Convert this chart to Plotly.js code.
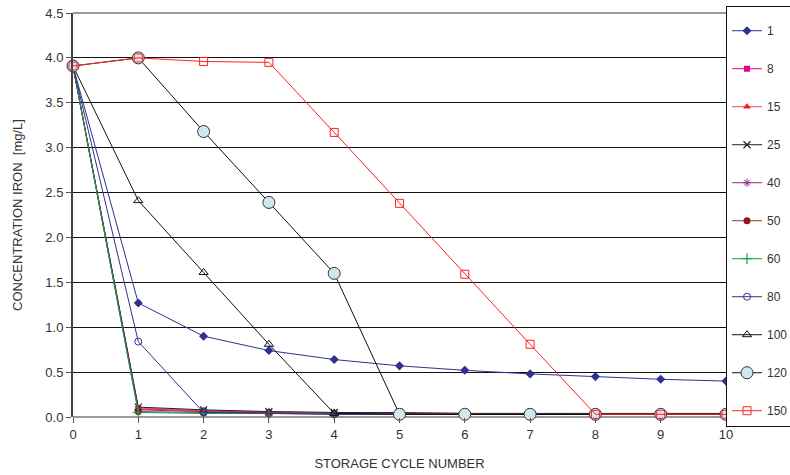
<!DOCTYPE html>
<html><head><meta charset="utf-8">
<script src="https://cdn.plot.ly/plotly-3.0.1.min.js"></script>
<style>body{margin:0;padding:0;background:#fff}#chart{width:790px;height:475px}</style>
</head><body><div id="chart"></div>
<script>
const cycles = [0,1,2,3,4,5,6,7,8,9,10];
const seriesNames = ["1","8","15","25","40","50","60","80","100","120","150"];
const s1   = [3.91,1.27,0.90,0.74,0.64,0.57,0.52,0.48,0.45,0.42,0.40];
const s8   = [3.91,0.09,0.07,0.05,0.04,0.04,0.04,0.03,0.03,0.03,0.03];
const s15  = [3.91,0.10,0.07,0.06,0.05,0.04,0.04,0.04,0.03,0.03,0.03];
const s25  = [3.91,0.11,0.08,0.06,0.05,0.05,0.04,0.04,0.04,0.04,0.04];
const s40  = [3.91,0.08,0.06,0.05,0.04,0.04,0.03,0.03,0.03,0.03,0.03];
const s50  = [3.91,0.06,0.05,0.05,0.04,0.04,0.04,0.03,0.03,0.03,0.03];
const s60  = [3.91,0.05,0.04,0.04,0.03,0.03,0.03,0.03,0.03,0.03,0.03];
const s80  = [3.91,0.84,0.05,0.04,0.03,0.03,0.03,0.03,0.03,0.03,0.03];
const s100 = [3.91,2.41,1.61,0.81,0.04,0.03,0.03,0.03,0.03,0.03,0.03];
const s120 = [3.91,4.00,3.18,2.39,1.60,0.03,0.03,0.03,0.03,0.03,0.03];
const s150 = [3.91,4.00,3.96,3.95,3.17,2.38,1.59,0.81,0.03,0.03,0.03];
const yTicks = [0,0.5,1,1.5,2,2.5,3,3.5,4,4.5];

const values = [s1,s8,s15,s25,s40,s50,s60,s80,s100,s120,s150];
const styles = [
  {lc:"#2E3192", m:{symbol:"diamond", size:7, color:"#2E3192"}},
  {lc:"#EC008C", m:{symbol:"square", size:6, color:"#EC008C"}},
  {lc:"#F04E4E", m:{symbol:"triangle-up", size:7, color:"#ED1C24"}},
  {lc:"#222222", m:{symbol:"x-thin", size:7, color:"#222", line:{color:"#222",width:1.2}}},
  {lc:"#92278F", m:{symbol:"asterisk", size:7, color:"#92278F", line:{color:"#92278F",width:1}}},
  {lc:"#A0302A", m:{symbol:"circle", size:7, color:"#8B1A1A"}},
  {lc:"#00A651", m:{symbol:"cross-thin", size:8, color:"#00A651", line:{color:"#00A651",width:1.2}}},
  {lc:"#2E3192", m:{symbol:"circle-open", size:7, color:"#2E3192", line:{width:1}}},
  {lc:"#111111", m:{symbol:"triangle-up-open", size:8, color:"#111", line:{width:1}}},
  {lc:"#111111", m:{symbol:"circle", size:12, color:"#CFE8F0", line:{color:"#333",width:1}}},
  {lc:"#FF2020", m:{symbol:"square-open", size:8, color:"#FF2020", line:{width:1}}}
];
const traces = values.map((v,i)=>({
  x: cycles, y: v, name: seriesNames[i], type:"scatter", mode:"lines+markers",
  line:{color:styles[i].lc, width:1}, marker:styles[i].m,
  legendgroup:"g"+i, cliponaxis:false
}));

const layout = {
  width:790, height:475,
  margin:{l:73, r:64, t:13, b:58, autoexpand:false},
  paper_bgcolor:"#fff", plot_bgcolor:"#fff",
  font:{family:"Liberation Sans, Arial, sans-serif", size:13, color:"#333"},
  showlegend:true,
  legend:{x:1, xanchor:"left", y:1.017, yanchor:"top", bordercolor:"#111", borderwidth:1,
          bgcolor:"#fff", traceorder:"grouped", tracegroupgap:19, maxheight:1,
          title:{text:" ", font:{size:7}},
          font:{size:12, color:"#333"}},
  xaxis:{range:[0,10], tickvals:cycles, ticktext:cycles.map(String), ticks:"outside", ticklen:5,
         tickcolor:"#555", tickfont:{size:13, color:"#333"}, showgrid:false, zeroline:false, showline:false,
         title:{text:"STORAGE CYCLE NUMBER", font:{size:13,color:"#333"}, standoff:18}},
  yaxis:{range:[0,4.5], tickvals:yTicks, ticktext:yTicks.map(v=>v.toFixed(1)), ticks:"outside", ticklen:5,
         tickcolor:"#555", tickfont:{size:13, color:"#333"}, showgrid:true, gridcolor:"#111", gridwidth:1,
         zeroline:true, zerolinecolor:"#999", zerolinewidth:2,
         showline:true, linecolor:"#444", linewidth:2,
         title:{text:"CONCENTRATION IRON  [mg/L]", font:{size:13,color:"#333"}, standoff:20}},
  shapes:[{type:"line", xref:"paper", x0:0, x1:1, yref:"paper", y0:1, y1:1, line:{color:"#999", width:2}, layer:"above"}]
};
Plotly.newPlot("chart", traces, layout, {displayModeBar:false, staticPlot:true});
</script></body></html>
